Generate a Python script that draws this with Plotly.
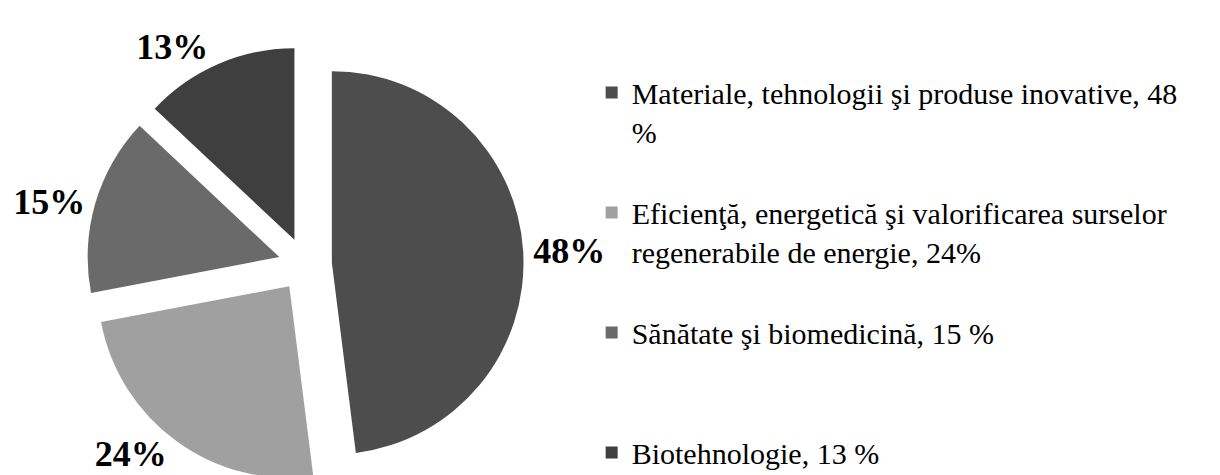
import plotly.graph_objects as go

# ----------------------------------------------------------
# Data
# ----------------------------------------------------------
domains = [
    "Materiale, tehnologii şi produse inovative, 48<br>%<br> ",
    "Eficienţă, energetică şi valorificarea surselor<br>regenerabile de energie, 24%<br> ",
    "Sănătate şi biomedicină, 15 %<br> <br> ",
    "Biotehnologie, 13 %",
]
shares = [48, 24, 15, 13]
slice_colors = ["#4d4d4d", "#a0a0a0", "#6a6a6a", "#3f3f3f"]

SERIF = "Liberation Serif, Times New Roman, Tinos, serif"

# ----------------------------------------------------------
# Figure
# ----------------------------------------------------------
fig = go.Figure(
    go.Pie(
        labels=domains,
        values=shares,
        sort=False,
        direction="clockwise",
        rotation=0,
        pull=0.14,
        marker=dict(colors=slice_colors, line=dict(width=0)),
        textinfo="percent",
        texttemplate="<b>%{percent}</b>",
        textposition="outside",
        outsidetextfont=dict(family=SERIF, size=36, color="black"),
        domain=dict(x=[0.0644, 0.4226], y=[0.0, 0.92]),
        hoverinfo="label+percent",
    )
)

fig.update_layout(
    width=1220,
    height=475,
    paper_bgcolor="white",
    plot_bgcolor="white",
    margin=dict(l=0, r=0, t=0, b=0, autoexpand=False),
    font=dict(family=SERIF, color="black"),
    showlegend=True,
    legend=dict(
        x=0.4784,
        y=0.877,
        xanchor="left",
        yanchor="top",
        valign="top",
        font=dict(family=SERIF, size=30, color="black"),
        bgcolor="rgba(0,0,0,0)",
    ),
)

fig.write_html("out.html")
